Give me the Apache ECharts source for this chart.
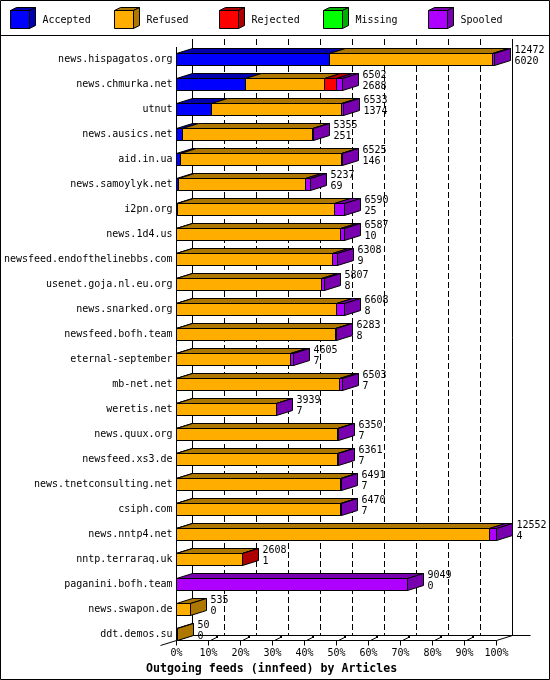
<!DOCTYPE html>
<html><head><meta charset="utf-8">
<script src="https://cdn.jsdelivr.net/npm/echarts@6/dist/echarts.min.js"></script>
<style>html,body{margin:0;padding:0;background:#fff}#c{width:550px;height:680px}</style>
</head><body><div id="c"></div>
<script>
// ---- data ----
const feeds = ['news.hispagatos.org','news.chmurka.net','utnut','news.ausics.net','aid.in.ua','news.samoylyk.net','i2pn.org','news.1d4.us','newsfeed.endofthelinebbs.com','usenet.goja.nl.eu.org','news.snarked.org','newsfeed.bofh.team','eternal-september','mb-net.net','weretis.net','news.quux.org','newsfeed.xs3.de','news.tnetconsulting.net','csiph.com','news.nntp4.net','nntp.terraraq.uk','paganini.bofh.team','news.swapon.de','ddt.demos.su'];
const totals   = [12472,6502,6533,5355,6525,5237,6590,6587,6308,5807,6608,6283,4605,6503,3939,6350,6361,6491,6470,12552,2608,9049,535,50];
const accepted = [6020,2688,1374,251,146,69,25,10,9,8,8,8,7,7,7,7,7,7,7,4,1,0,0,0];
const refused  = [6392,3126,5079,5089,6319,4998,6185,6437,6119,5699,6285,6225,4468,6406,3922,6313,6294,6424,6423,12273,2587,0,535,50];
const rejected = [0,470,0,0,0,0,0,0,0,0,0,0,0,0,0,0,0,0,0,0,20,0,0,0];
const missing  = [0,0,0,0,0,0,0,0,0,0,0,0,0,0,0,0,0,0,0,0,0,0,0,0];
const spooled  = [60,218,80,15,60,170,380,140,180,100,315,50,130,90,10,30,60,60,40,275,0,9049,0,0];
const seriesNames = ['Accepted','Refused','Rejected','Missing','Spooled'];
const percentTicks = [0,10,20,30,40,50,60,70,80,90,100];
const titleText = 'Outgoing feeds (innfeed) by Articles';

// ---- style ----
const faceColors = ['#0000ff','#ffae00','#ff0000','#00ff00','#ae00ff'];
const darkColors = ['#0000ae','#ae7800','#ae0000','#00ae00','#7800ae'];
const FONT = 'DejaVu Sans Mono';
const DX = 16, DY = -5, H = 6;

const maxTotal = Math.max(...totals);
const pct = v => v / maxTotal * 100;
const segArrays = [accepted, refused, rejected, missing, spooled];
const barData = feeds.map((f, i) => [...segArrays.map(a => pct(a[i])), i]);
const px = x => Math.floor(x) + 0.5;

function renderBar(params, api) {
  const i = api.value(5);
  const yc = api.coord([0, i])[1];
  const yt = yc - H, yb = yc + H;
  const children = [];
  let cum = 0, lastK = -1;
  for (let k = 0; k < 5; k++) {
    const v = api.value(k);
    if (!(v > 0)) continue;
    const xa = px(api.coord([cum, i])[0]);
    cum += v;
    const xb = px(api.coord([cum, i])[0]);
    children.push({type:'polygon', shape:{points:[[xa,yt],[xb,yt],[xb+DX,yt+DY],[xa+DX,yt+DY]]},
      style:{fill:darkColors[k], stroke:'#000', lineWidth:1}});
    children.push({type:'rect', shape:{x:xa, y:yt, width:xb-xa, height:yb-yt},
      style:{fill:faceColors[k], stroke:'#000', lineWidth:1}});
    lastK = k;
  }
  const xe = px(api.coord([cum, i])[0]);
  if (lastK >= 0) {
    children.push({type:'polygon', shape:{points:[[xe,yt],[xe+DX,yt+DY],[xe+DX,yb+DY],[xe,yb]]},
      style:{fill:darkColors[lastK], stroke:'#000', lineWidth:1}});
  }
  const tx = xe + DX + 4;
  children.push({type:'text', style:{text:String(totals[i]), x:tx, y:yc-9.5, verticalAlign:'middle', font:'10px ' + FONT, fill:'#000'}});
  children.push({type:'text', style:{text:String(accepted[i]), x:tx, y:yc+2, verticalAlign:'middle', font:'10px ' + FONT, fill:'#000'}});
  return {type:'group', children};
}

function renderFrame(params, api) {
  const cs = params.coordSys;
  const n = feeds.length;
  const top = cs.y;
  const wallTop = top - 8;
  const yFront = api.coord([0, n - 1])[1] + H;
  const yBack = yFront + DY;
  const x0 = api.coord([0, 0])[0];
  const x100 = api.coord([100, 0])[0];
  const ch = [];
  const line = (a, b, extra) => ch.push({type:'line', shape:{x1:a[0],y1:a[1],x2:b[0],y2:b[1]},
    style:Object.assign({stroke:'#000', lineWidth:1}, extra || {})});
  // back wall gridlines
  percentTicks.forEach(t => {
    const x = px(api.coord([t, 0])[0]) + DX;
    if (t === 0 || t === 100) line([x, wallTop], [x, yBack]);
    else line([x, wallTop], [x, yBack], {lineDash:[6,3]});
  });
  // front value axis (left)
  line([px(x0), top], [px(x0), yFront + 5]);
  // floor
  line([px(x0), yFront], [px(x100), yFront]);
  line([px(x0) + DX, yBack], [px(x100) + DX + 18, yBack]);
  line([px(x0) - DX, yFront - DY], [px(x0) + DX, yBack]);
  line([px(x100), yFront], [px(x100) + DX, yBack]);
  // ticks
  percentTicks.forEach(t => {
    if (t === 0) return;
    const x = px(api.coord([t, 0])[0]);
    line([x, yFront], [x, yFront + 5]);
    if (t < 100) {
      line([x + 2, yFront], [x + 8, yFront - 3]);
      ch.push({type:'rect', shape:{x:x + 7.5, y:yFront - 4.5, width:2, height:2}, style:{fill:'#000'}});
    }
  });
  return {type:'group', children:ch};
}

// legend graphics
const legendGraphics = [];
seriesNames.forEach((name, k) => {
  const bx = 10 + Math.floor(k * 104.5) + 0.5;
  legendGraphics.push({type:'polygon', shape:{points:[[bx,10.5],[bx+19,10.5],[bx+25,7.5],[bx+6,7.5]]}, style:{fill:darkColors[k], stroke:'#000', lineWidth:1}});
  legendGraphics.push({type:'polygon', shape:{points:[[bx+19,10.5],[bx+25,7.5],[bx+25,25.5],[bx+19,28.5]]}, style:{fill:darkColors[k], stroke:'#000', lineWidth:1}});
  legendGraphics.push({type:'rect', shape:{x:bx, y:10.5, width:19, height:18}, style:{fill:faceColors[k], stroke:'#000', lineWidth:1}});
  legendGraphics.push({type:'text', x:bx + 32, y:20, style:{text:name, font:'10px ' + FONT, fill:'#000', verticalAlign:'middle'}});
});

const chart = echarts.init(document.getElementById('c'), null, {renderer:'canvas'});
chart.setOption({
  backgroundColor:'#ffffff',
  animation:false,
  title:{text:titleText, left:141, top:658, textStyle:{fontFamily:FONT, fontWeight:'bold', fontSize:11.6, color:'#000'}},
  grid:{left:176.5, right:53.5, top:47, bottom:33, containLabel:false},
  xAxis:{type:'value', min:0, max:100, interval:10,
    axisLine:{show:false}, axisTick:{show:false}, splitLine:{show:false},
    axisLabel:{formatter:'{value}%', margin:1, fontFamily:FONT, fontSize:10, color:'#000'}},
  yAxis:{type:'category', data:feeds, inverse:true,
    axisLine:{show:false}, axisTick:{show:false}, splitLine:{show:false},
    axisLabel:{margin:4, fontFamily:FONT, fontSize:10, color:'#000', interval:0}},
  graphic:[
    {type:'rect', z:100, shape:{x:0.5, y:0.5, width:549, height:679}, style:{fill:'none', stroke:'#000', lineWidth:1}},
    {type:'line', z:100, shape:{x1:0, y1:35.5, x2:550, y2:35.5}, style:{stroke:'#000', lineWidth:1}},
    {type:'group', z:100, children:legendGraphics}
  ],
  series:[
    {type:'custom', name:'frame', data:[[0,0]], renderItem:renderFrame, silent:true, z:1},
    {type:'custom', name:'bars', data:barData, renderItem:renderBar, z:2, encode:{x:[0], y:5}}
  ]
});
</script></body></html>
